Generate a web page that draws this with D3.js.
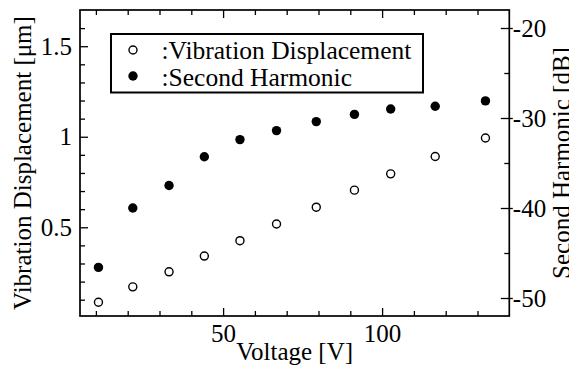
<!DOCTYPE html>
<html>
<head>
<meta charset="utf-8">
<script src="https://cdn.jsdelivr.net/npm/d3@7"></script>
<style>
  body { margin: 0; background: #fff; }
  svg { display: block; }
  text { font-family: "Liberation Serif", "Times New Roman", serif; fill: #000; }
</style>
</head>
<body>
<svg width="569" height="365"></svg>
<script>
// data
const voltage = [10.8, 21.6, 33.0, 44.1, 55.3, 66.8, 79.3, 91.3, 102.7, 116.7, 132.5];
const displacement = [0.086, 0.171, 0.254, 0.341, 0.426, 0.518, 0.611, 0.705, 0.795, 0.891, 0.993];
const harmonic = [-46.6, -40.0, -37.5, -34.3, -32.4, -31.4, -30.4, -29.6, -29.0, -28.7, -28.1];

const xMajor = [50, 100];
const xMinor = [10, 20, 30, 40, 60, 70, 80, 90, 110, 120, 130];
const yLeftMajor = [0.5, 1, 1.5];
const yLeftMinor = [0.1, 0.2, 0.3, 0.4, 0.6, 0.7, 0.8, 0.9, 1.1, 1.2, 1.3, 1.4, 1.6];
const yRightMajor = [-20, -30, -40, -50];
const yRightMinor = [-25, -35, -45];

const legendLabels = [":Vibration Displacement", ":Second Harmonic"];

const X0 = 80, X1 = 509.3, Y0 = 10, Y1 = 316;
const FONT = 25;

const svg = d3.select("svg");

const x = d3.scaleLinear().domain([5, 140]).range([X0, X1]);
const yL = d3.scaleLinear().domain([0.01, 1.70]).range([Y1, Y0]);
const yR = d3.scaleLinear().domain([-52, -18]).range([Y1, Y0]);

function styleAxis(g) {
  g.select(".domain").remove();
  g.selectAll("line").attr("stroke", "#000").attr("stroke-width", 1.3);
  g.selectAll("text")
    .attr("font-size", FONT)
    .attr("font-family", "Liberation Serif, serif");
}

// bottom
svg.append("g")
  .attr("transform", `translate(0,${Y1})`)
  .call(d3.axisBottom(x).tickValues(xMajor).tickSizeInner(-8).tickSizeOuter(0).tickFormat(d => String(d)))
  .call(styleAxis)
  .call(g => g.selectAll("text").attr("y", 25.5).attr("dy", null));
svg.append("g")
  .attr("transform", `translate(0,${Y1})`)
  .call(d3.axisBottom(x).tickValues(xMinor).tickSizeInner(-5).tickSizeOuter(0).tickFormat(""))
  .call(styleAxis);

// top
svg.append("g")
  .attr("transform", `translate(0,${Y0})`)
  .call(d3.axisTop(x).tickValues(xMajor).tickSizeInner(-8).tickSizeOuter(0).tickFormat(""))
  .call(styleAxis);
svg.append("g")
  .attr("transform", `translate(0,${Y0})`)
  .call(d3.axisTop(x).tickValues(xMinor).tickSizeInner(-5).tickSizeOuter(0).tickFormat(""))
  .call(styleAxis);

// left
svg.append("g")
  .attr("transform", `translate(${X0},0)`)
  .call(d3.axisLeft(yL).tickValues(yLeftMajor).tickSizeInner(-8).tickSizeOuter(0).tickFormat(d => String(d)))
  .call(styleAxis)
  .call(g => g.selectAll("text").attr("x", -8).attr("dy", "0.33em"));
svg.append("g")
  .attr("transform", `translate(${X0},0)`)
  .call(d3.axisLeft(yL).tickValues(yLeftMinor).tickSizeInner(-5).tickSizeOuter(0).tickFormat(""))
  .call(styleAxis);

// right
svg.append("g")
  .attr("transform", `translate(${X1},0)`)
  .call(d3.axisRight(yR).tickValues(yRightMajor).tickSizeInner(3.5).tickSizeOuter(0).tickFormat(d => String(d)))
  .call(styleAxis)
  .call(g => g.selectAll("line").attr("x1", -8.5))
  .call(g => g.selectAll("text").attr("x", 3.5).attr("dy", "0.33em"));
svg.append("g")
  .attr("transform", `translate(${X1},0)`)
  .call(d3.axisRight(yR).tickValues(yRightMinor).tickSizeInner(-5).tickSizeOuter(0).tickFormat(""))
  .call(styleAxis);

// frame
svg.append("rect")
  .attr("x", X0).attr("y", Y0)
  .attr("width", X1 - X0).attr("height", Y1 - Y0)
  .attr("fill", "none").attr("stroke", "#000").attr("stroke-width", 1.7);

// points
svg.append("g").selectAll("circle")
  .data(voltage)
  .join("circle")
  .attr("cx", d => x(d))
  .attr("cy", (d, i) => yL(displacement[i]))
  .attr("r", 4)
  .attr("fill", "#fff")
  .attr("stroke", "#000")
  .attr("stroke-width", 1.4);

svg.append("g").selectAll("circle")
  .data(voltage)
  .join("circle")
  .attr("cx", d => x(d))
  .attr("cy", (d, i) => yR(harmonic[i]))
  .attr("r", 4.7)
  .attr("fill", "#000");

// legend
const legend = svg.append("g");
legend.append("rect")
  .attr("x", 111).attr("y", 34).attr("width", 312).attr("height", 58.5)
  .attr("fill", "#fff").attr("stroke", "#000").attr("stroke-width", 2);
legend.append("circle").attr("cx", 133).attr("cy", 50).attr("r", 4)
  .attr("fill", "#fff").attr("stroke", "#000").attr("stroke-width", 1.4);
legend.append("circle").attr("cx", 133).attr("cy", 76).attr("r", 4.7).attr("fill", "#000");
legend.selectAll("text")
  .data(legendLabels)
  .join("text")
  .attr("x", 161.5)
  .attr("y", (d, i) => 59 + i * 27)
  .attr("font-size", 25.5)
  .text(d => d);

// axis titles
svg.append("text")
  .attr("x", (X0 + X1) / 2).attr("y", 359.5)
  .attr("text-anchor", "middle")
  .attr("font-size", FONT)
  .text("Voltage [V]");

svg.append("text")
  .attr("transform", `translate(31,${(Y0 + Y1) / 2}) rotate(-90)`)
  .attr("text-anchor", "middle")
  .attr("font-size", FONT)
  .text("Vibration Displacement [μm]");

svg.append("text")
  .attr("transform", `translate(570,${(Y0 + Y1) / 2}) rotate(-90)`)
  .attr("text-anchor", "middle")
  .attr("font-size", FONT)
  .text("Second Harmonic [dB]");
</script>
</body>
</html>
